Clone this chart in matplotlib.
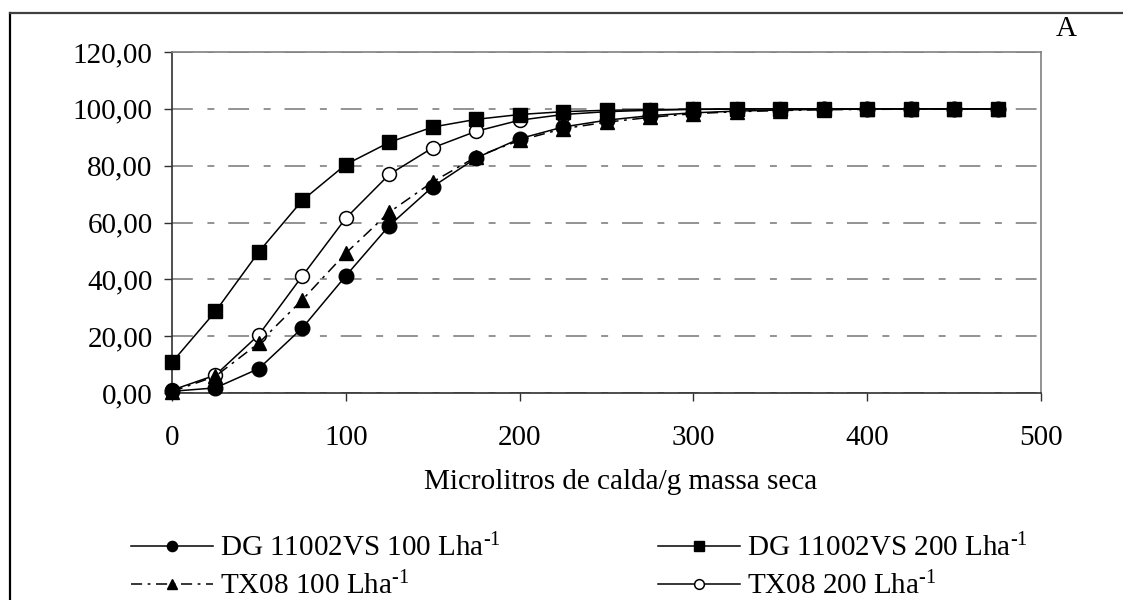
import matplotlib
matplotlib.use("Agg")
from matplotlib import pyplot as plt
from matplotlib.lines import Line2D
from matplotlib.ticker import FuncFormatter, MultipleLocator

# data
volume = [0, 25, 50, 75, 100, 125, 150, 175, 200, 225,
          250, 275, 300, 325, 350, 375, 400, 425, 450, 475]
dg_100 = [0.6, 1.8, 8.6, 22.9, 41.2, 58.9, 72.6, 82.7, 89.5, 93.6,
          96.0, 97.6, 98.6, 99.2, 99.6, 99.8, 99.9, 100, 100, 100]
dg_200 = [10.8, 28.7, 49.7, 67.8, 80.4, 88.2, 93.6, 96.3, 98.0, 99.0,
          99.5, 99.7, 99.9, 100, 100, 100, 100, 100, 100, 100]
tx_100 = [0.5, 5.9, 17.6, 32.8, 49.2, 63.6, 74.3, 83.1, 88.9, 93.0,
          95.3, 97.0, 98.3, 99.0, 99.4, 99.7, 99.8, 99.9, 100, 100]
tx_200 = [1.0, 6.3, 20.5, 41.2, 61.5, 76.9, 86.3, 92.1, 96.0, 98.0,
          99.0, 99.5, 99.8, 99.9, 100, 100, 100, 100, 100, 100]

sup = "$^{\\text{-1}}$"
labels = ["DG 11002VS 100 Lha" + sup,
          "DG 11002VS 200 Lha" + sup,
          "TX08 100 Lha" + sup,
          "TX08 200 Lha" + sup]

FS = 21
plt.rcParams["font.family"] = ["Liberation Serif", "DejaVu Serif"]
plt.rcParams["mathtext.fontset"] = "custom"
plt.rcParams["mathtext.rm"] = "Liberation Serif"
plt.rcParams["mathtext.it"] = "Liberation Serif:italic"
plt.rcParams["font.size"] = FS
plt.rcParams["lines.scale_dashes"] = False

W, H = 1123, 600
fig = plt.figure(figsize=(W / 100, H / 100), dpi=100)
ax = fig.add_axes([172 / W, 1 - 393 / H, (1041 - 172) / W, (393 - 52) / H])

lw = 1.1
h4, = ax.plot(volume, tx_200, color="black", lw=lw, marker="o", ms=10, mfc="white", mew=1.1,
              clip_on=False, zorder=3)
h1, = ax.plot(volume, dg_100, color="black", lw=lw, marker="o", ms=10.5, clip_on=False, zorder=3)
h3, = ax.plot(volume, tx_100, color="black", lw=lw, ls=(0, (8, 4, 2, 4)), marker="^", ms=10.5,
              clip_on=False, zorder=3)
h2, = ax.plot(volume, dg_200, color="black", lw=lw, marker="s", ms=10, clip_on=False, zorder=3)

ax.set_xlim(0, 500)
ax.set_ylim(0, 120)
ax.xaxis.set_major_locator(MultipleLocator(100))
ax.yaxis.set_major_locator(MultipleLocator(20))
ax.yaxis.set_major_formatter(FuncFormatter(lambda v, p: f"{v:.2f}".replace(".", ",")))

ax.yaxis.grid(True, color="#808080", lw=1.2, ls=(0, (15, 10.5, 5, 10)))
ax.set_axisbelow(True)

for s in ["left", "bottom"]:
    ax.spines[s].set_color("#303030")
    ax.spines[s].set_linewidth(1.2)
for s in ["top", "right"]:
    ax.spines[s].set_color("#808080")
    ax.spines[s].set_linewidth(1.2)

ax.tick_params(axis="y", direction="out", length=5.5, width=1, color="#303030", pad=8.5, labelsize=FS)
ax.tick_params(axis="x", direction="out", length=6, width=1, color="#303030", pad=17, labelsize=FS)

fig.text(621 / W, 1 - 482 / H, "Microlitros de calda/g massa seca", ha="center", va="center", fontsize=FS)
fig.text(1066 / W, 1 - 29 / H, "A", ha="center", va="center", fontsize=FS)

# column-wise fill: DG 100 / TX08 100 in the first column
fig.legend([h1, h3, h2, h4], [labels[0], labels[2], labels[1], labels[3]], ncol=2, loc="upper left",
           bbox_to_anchor=(131 / W, 1 - 534 / H), frameon=False, fontsize=FS,
           handlelength=2.8, handletextpad=0.25, columnspacing=5.4, labelspacing=0.32,
           borderpad=0, borderaxespad=0, markerscale=0.7)

# outer frame of the original figure
fig.add_artist(Line2D([10 / W, 10 / W], [0, 1 - 13 / H], color="black", lw=1.6))
fig.add_artist(Line2D([10 / W, 1], [1 - 13 / H, 1 - 13 / H], color="#404040", lw=1.6))

fig.savefig("out.png", dpi=100)
